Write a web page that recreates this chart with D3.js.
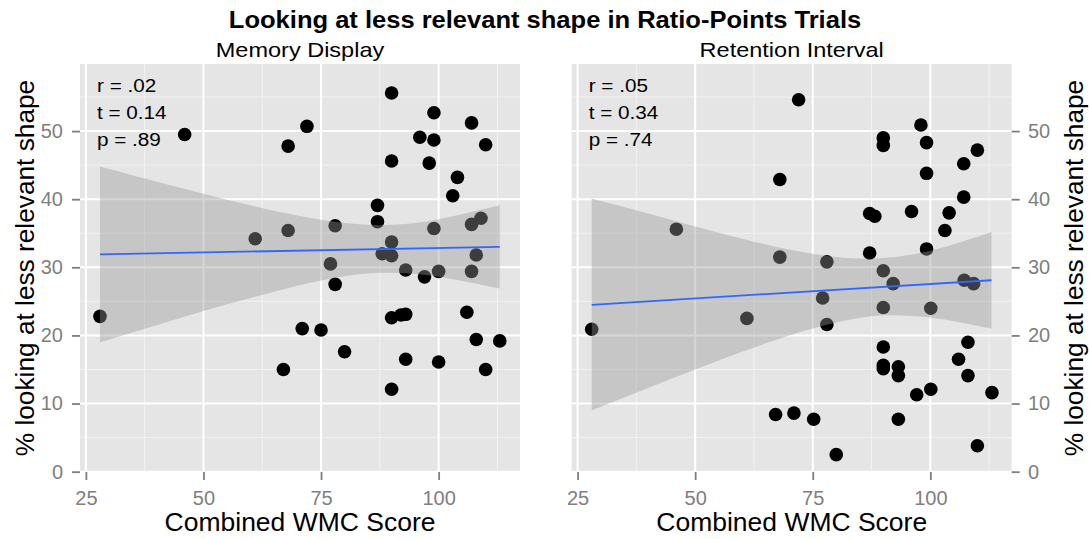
<!DOCTYPE html>
<html><head><meta charset="utf-8">
<script src="https://cdn.jsdelivr.net/npm/d3@7"></script>
<style>html,body{margin:0;padding:0;background:#fff;} svg{display:block;}</style>
</head><body>
<svg id="chart" width="1089" height="539"></svg>
<script>
// ---------------- data ----------------
const chartTitle = "Looking at less relevant shape in Ratio-Points Trials";
const panelTitles = ["Memory Display", "Retention Interval"];
const xTitle = "Combined WMC Score";
const yTitle = "% looking at less relevant shape";
const xTicks = [25, 50, 75, 100];
const yTicks = [0, 10, 20, 30, 40, 50];

const memX = [46, 68, 72, 90, 99, 96, 99, 107, 110, 90, 98, 104, 103, 87, 87, 78, 68, 61, 99, 107, 109, 90, 88, 90, 108, 77, 93, 100, 107, 97, 78, 28, 90, 92, 93, 106, 71, 75, 80, 108, 113, 67, 93, 100, 110, 90];
const memY = [49.5, 47.8, 50.7, 55.6, 52.7, 49.1, 48.7, 51.2, 48.0, 45.6, 45.3, 43.2, 40.5, 39.1, 36.7, 36.1, 35.4, 34.2, 35.7, 36.3, 37.2, 33.7, 32.0, 31.7, 31.8, 30.5, 29.6, 29.4, 29.4, 28.6, 27.5, 22.8, 22.6, 23.0, 23.1, 23.4, 21.0, 20.8, 17.6, 19.4, 19.2, 15.0, 16.5, 16.1, 15.0, 12.1];

const retX = [72, 98, 90, 90, 99.2, 110, 107.1, 99.2, 68, 107.1, 87.1, 88.2, 96, 104, 103.1, 46, 68, 78, 87.1, 99.2, 90, 92.1, 107.2, 109.2, 77.1, 90, 100.1, 61, 78, 28, 90, 108, 106, 90, 90, 93.2, 93.2, 108, 97.1, 100.1, 113.1, 67.1, 71, 75.2, 93.2, 80, 110];
const retY = [54.6, 50.9, 49.0, 47.9, 48.3, 47.2, 45.2, 43.8, 42.9, 40.3, 37.9, 37.5, 38.2, 38.0, 35.4, 35.6, 31.5, 30.8, 32.1, 32.7, 29.5, 27.6, 28.1, 27.6, 25.5, 24.1, 24.0, 22.5, 21.6, 20.9, 18.3, 19.0, 16.5, 15.6, 15.1, 15.4, 14.1, 14.1, 11.3, 12.1, 11.6, 8.4, 8.6, 7.7, 7.7, 2.5, 3.8];

const fitX = [28, 113];
const memFit = [31.9, 33.0];
const retFit = [24.5, 28.1];

const bandX = [28, 40, 50, 60, 70, 80, 88.5, 97, 105, 113];
const memLo = [19.0, 21.5, 23.6, 25.5, 27.3, 28.7, 29.2, 28.9, 28.0, 26.9];
const memHi = [44.8, 42.6, 40.8, 39.1, 37.6, 36.5, 36.2, 36.7, 37.8, 39.1];
const retLo = [9.0, 12.3, 15.0, 17.6, 20.0, 21.9, 22.9, 22.8, 22.1, 21.0];
const retHi = [40.1, 37.9, 36.0, 34.2, 32.6, 31.5, 31.3, 32.0, 33.4, 35.2];

const memStats = ["r = .02", "t = 0.14", "p = .89"];
const retStats = ["r = .05", "t = 0.34", "p = .74"];

// ---------------- drawing ----------------
const FONT = "'Liberation Sans', Arial, Helvetica, sans-serif";
const svg = d3.select("#chart");
svg.append("rect").attr("width", 1089).attr("height", 539).attr("fill", "#ffffff");

function stretchText(str, x, y, o) {
  return svg.append("text")
    .attr("transform", `translate(${x},${y}) rotate(${o.rot || 0}) scale(${o.sx || 1},1)`)
    .attr("font-family", FONT)
    .attr("font-size", o.size)
    .attr("font-weight", o.weight || "normal")
    .attr("fill", o.fill || "#000")
    .attr("text-anchor", o.anchor || "middle")
    .text(str);
}

const pTop = 64, pBottom = 472, pw = 440;
const xDom = [23.75, 117.3];
const yDom = [-0.05, 59.85];
const y = d3.scaleLinear().domain(yDom).range([pBottom, pTop]);

const panels = [
  {left: 80, title: panelTitles[0], xs: memX, ys: memY, fit: memFit, lo: memLo, hi: memHi, stats: memStats, side: "left"},
  {left: 571.7, title: panelTitles[1], xs: retX, ys: retY, fit: retFit, lo: retLo, hi: retHi, stats: retStats, side: "right"}
];

function minorOf(ticks, dom) {
  const step = ticks[1] - ticks[0];
  const out = [ticks[0] - step / 2].concat(ticks.map(t => t + step / 2));
  return out.filter(v => v > dom[0] && v < dom[1]);
}

panels.forEach((p, pi) => {
  const x = d3.scaleLinear().domain(xDom).range([p.left, p.left + pw]);
  const g = svg.append("g");
  const clipId = "clip" + pi;
  svg.append("clipPath").attr("id", clipId).append("rect")
    .attr("x", p.left).attr("y", pTop).attr("width", pw).attr("height", pBottom - pTop);

  g.append("rect").attr("x", p.left).attr("y", pTop).attr("width", pw).attr("height", pBottom - pTop)
    .attr("fill", "#E5E5E5");

  const grid = g.append("g").attr("clip-path", `url(#${clipId})`);
  minorOf(xTicks, xDom).forEach(v => grid.append("line")
    .attr("x1", x(v)).attr("x2", x(v)).attr("y1", pTop).attr("y2", pBottom)
    .attr("stroke", "#F2F2F2").attr("stroke-width", 1));
  minorOf(yTicks, yDom).forEach(v => grid.append("line")
    .attr("y1", y(v)).attr("y2", y(v)).attr("x1", p.left).attr("x2", p.left + pw)
    .attr("stroke", "#F2F2F2").attr("stroke-width", 1));
  xTicks.forEach(v => grid.append("line")
    .attr("x1", x(v)).attr("x2", x(v)).attr("y1", pTop).attr("y2", pBottom)
    .attr("stroke", "#FFFFFF").attr("stroke-width", 2));
  yTicks.forEach(v => grid.append("line")
    .attr("y1", y(v)).attr("y2", y(v)).attr("x1", p.left).attr("x2", p.left + pw)
    .attr("stroke", "#FFFFFF").attr("stroke-width", 2));

  const plot = g.append("g").attr("clip-path", `url(#${clipId})`);
  plot.selectAll("circle").data(d3.range(p.xs.length)).join("circle")
    .attr("cx", i => x(p.xs[i])).attr("cy", i => y(p.ys[i])).attr("r", 6.8)
    .attr("fill", "#000");
  const area = d3.area()
    .x(i => x(bandX[i])).y0(i => y(p.lo[i])).y1(i => y(p.hi[i]))
    .curve(d3.curveCatmullRom.alpha(0.5));
  plot.append("path").attr("d", area(d3.range(bandX.length)))
    .attr("fill", "#999999").attr("fill-opacity", 0.4);
  const line = d3.line().x(i => x(fitX[i])).y(i => y(p.fit[i]));
  plot.append("path").attr("d", line(d3.range(fitX.length)))
    .attr("fill", "none").attr("stroke", "#3366FF").attr("stroke-width", 1.8);

  const styleAxis = sel => {
    sel.select(".domain").remove();
    sel.selectAll(".tick line").attr("stroke", "#7F7F7F").attr("stroke-width", 1.8);
    sel.selectAll(".tick text").attr("fill", "#7F7F7F").attr("font-size", 20).attr("font-family", FONT);
  };
  g.append("g").attr("transform", `translate(0,${pBottom})`)
    .call(d3.axisBottom(x).tickValues(xTicks).tickSize(8).tickPadding(10.5))
    .call(styleAxis);
  if (p.side === "left") {
    g.append("g").attr("transform", `translate(${p.left},0)`)
      .call(d3.axisLeft(y).tickValues(yTicks).tickSize(8).tickPadding(9))
      .call(styleAxis);
  } else {
    g.append("g").attr("transform", `translate(${p.left + pw},0)`)
      .call(d3.axisRight(y).tickValues(yTicks).tickSize(8).tickPadding(8.3))
      .call(styleAxis);
  }

  p.stats.forEach((s, k) => stretchText(s, p.left + 17, 92 + k * 27, {size: 19, sx: 1.09, anchor: "start"}));
  stretchText(p.title, p.left + pw / 2, 57, {size: 21, sx: 1.12});
  stretchText(xTitle, p.left + pw / 2, 531, {size: 25, sx: 1.06});
});

stretchText(yTitle, 34, (pTop + pBottom) / 2, {size: 25, sx: 1.05, rot: -90});
stretchText(yTitle, 1083, (pTop + pBottom) / 2, {size: 25, sx: 1.05, rot: -90});

stretchText(chartTitle, 545, 28, {size: 23, sx: 1.11, weight: "bold"});
</script>
</body></html>
